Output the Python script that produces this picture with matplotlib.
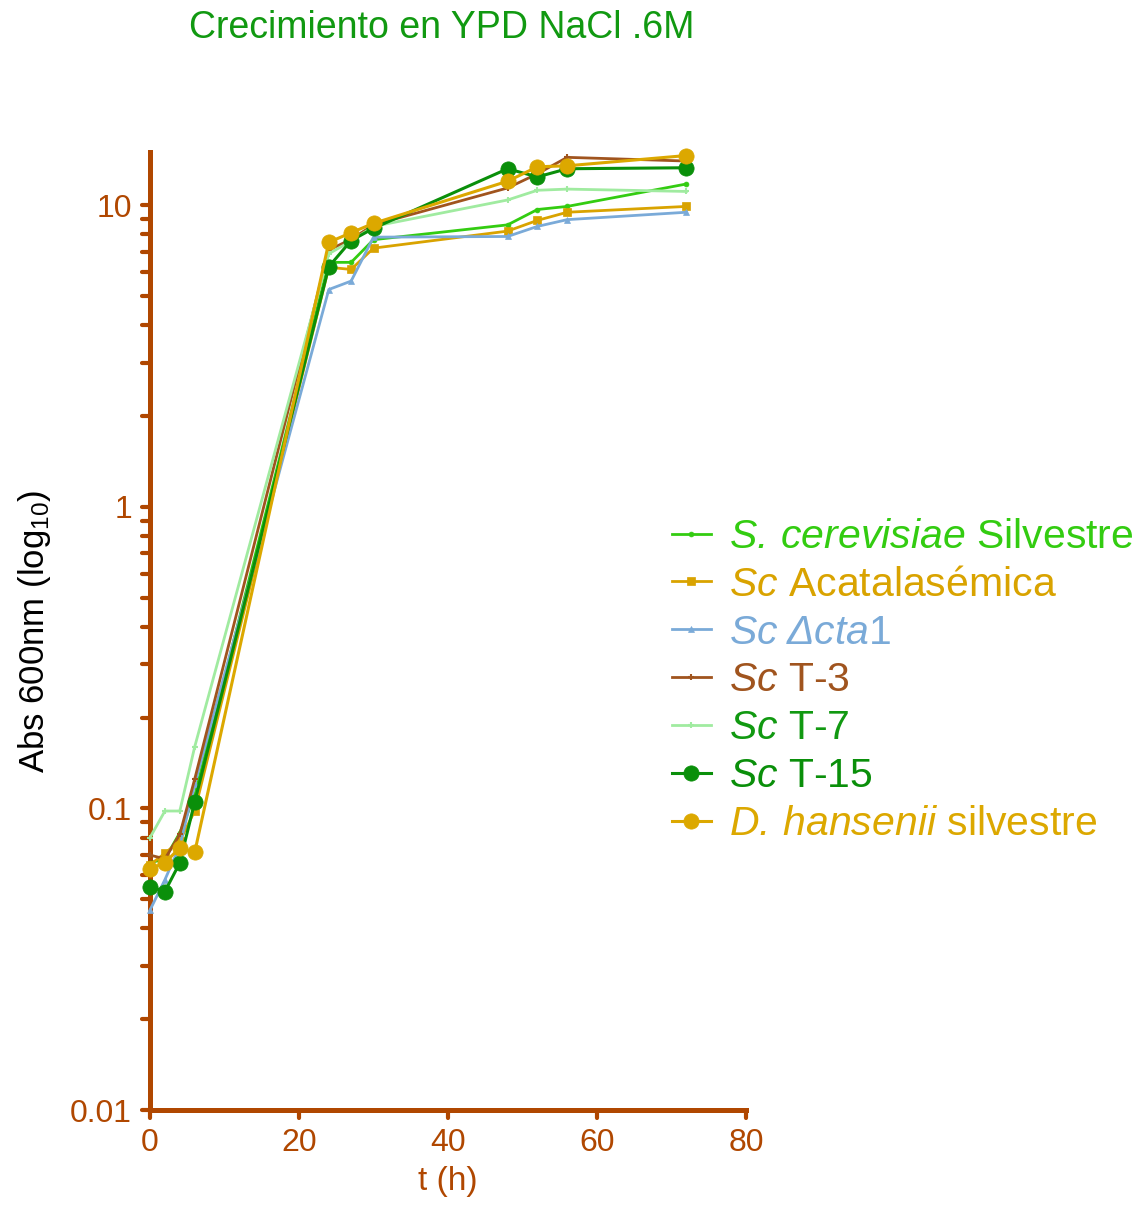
import numpy as np
import matplotlib
matplotlib.use("Agg")
import matplotlib.pyplot as plt
from matplotlib.markers import MarkerStyle, TICKLEFT, TICKDOWN
from matplotlib.ticker import FixedLocator, LogLocator, NullFormatter, FuncFormatter

plt.rcParams['font.family'] = ['Liberation Sans', 'DejaVu Sans']
plt.rcParams['mathtext.fontset'] = 'custom'
plt.rcParams['mathtext.rm'] = 'Liberation Sans'
plt.rcParams['mathtext.it'] = 'Liberation Sans:italic'
plt.rcParams['mathtext.sf'] = 'Liberation Sans:italic'   # italic that also covers Greek capitals

# ---------- data ----------
t_h = [0, 2, 4, 6, 24, 27, 30, 48, 52, 56, 72]

sc_silvestre = [0.066, 0.068, 0.083, 0.11, 6.46, 6.46, 7.68, 8.6, 9.67, 9.9, 11.75]
sc_acatal    = [0.065, 0.071, 0.078, 0.098, 6.22, 6.12, 7.2, 8.2, 8.9, 9.47, 9.9]
sc_dcta1     = [0.046, 0.058, 0.075, 0.12, 5.25, 5.6, 7.83, 7.87, 8.5, 8.95, 9.47]
sc_t3        = [0.07, 0.068, 0.082, 0.125, 7.1, 7.7, 8.6, 11.4, 12.7, 14.4, 14.0]
sc_t7        = [0.08, 0.098, 0.098, 0.16, 6.9, 7.6, 8.5, 10.4, 11.2, 11.3, 11.1]
sc_t15       = [0.055, 0.053, 0.066, 0.105, 6.25, 7.63, 8.38, 13.2, 12.4, 13.2, 13.3]
dh_silvestre = [0.063, 0.066, 0.074, 0.0715, 7.53, 8.1, 8.7, 12.0, 13.4, 13.5, 14.6]

labels = [r"$\mathsf{S.\,cerevisiae}$ Silvestre",
          r"$\mathsf{Sc}$ Acatalasémica",
          r"$\mathsf{Sc}\;\mathsf{\Delta cta}$1",
          r"$\mathsf{Sc}$ T-3",
          r"$\mathsf{Sc}$ T-7",
          r"$\mathsf{Sc}$ T-15",
          r"$\mathsf{D.\,hansenii}$ silvestre"]
series = [sc_silvestre, sc_acatal, sc_dcta1, sc_t3, sc_t7, sc_t15, dh_silvestre]

# style per series: (line colour, text colour, marker, markersize, linewidth)
STYLE = [("#33CC11", "#33CC11", "o", 3.5, 2.0),
         ("#D9A300", "#D9A300", "s", 5.5, 2.0),
         ("#7AAAD8", "#7AAAD8", "^", 4, 2.0),
         ("#A0541E", "#A0541E", "+", 5, 2.0),
         ("#A0EBA0", "#119911", "+", 4, 2.0),
         ("#0A8F0A", "#0A8F0A", "o", 11, 2.2),
         ("#DCA800", "#DCA800", "o", 11, 2.2)]

AX_COL = "#B04700"

fig = plt.figure(figsize=(11.47, 12.10), dpi=100)
ax = fig.add_axes([150/1147, 1 - 1110/1210, 596/1147, (1110 - 152)/1210])

for ys, lab, (col, tcol, mk, ms, lw) in zip(series, labels, STYLE):
    ax.plot(t_h, ys, color=col, marker=mk, ms=ms, lw=lw, mew=1.5 if mk == "+" else 0.5,
            mec=col, mfc=col, label=lab, clip_on=False, zorder=4)

ax.set_yscale("log")
ax.set_xlim(0, 80)
ax.set_ylim(0.01, 15)
ax.xaxis.set_major_locator(FixedLocator([0, 20, 40, 60, 80]))
ax.yaxis.set_major_locator(FixedLocator([0.01, 0.1, 1, 10]))
ax.yaxis.set_minor_locator(LogLocator(base=10, subs=np.arange(2, 10), numticks=20))
ax.yaxis.set_minor_formatter(NullFormatter())
ax.yaxis.set_major_formatter(FuncFormatter(lambda v, p: f"{v:g}"))

for sp in ["top", "right"]:
    ax.spines[sp].set_visible(False)
for sp in ["left", "bottom"]:
    ax.spines[sp].set_color(AX_COL)
    ax.spines[sp].set_linewidth(3.6)
    ax.spines[sp].set_zorder(3)

ax.tick_params(axis="both", which="both", direction="out", color=AX_COL,
               width=3, labelcolor=AX_COL, labelsize=23)
ax.tick_params(axis="both", which="major", length=6, pad=7)
ax.tick_params(axis="y", which="minor", length=6)

ax.set_xlabel("t (h)", fontsize=24, color=AX_COL, labelpad=6)
ax.set_ylabel(r"Abs 600nm (log$_{10}$)", fontsize=25, color="black", labelpad=12)
fig.text(442/1147, 1 - 28/1210, "Crecimiento en YPD NaCl .6M", fontsize=27,
         color="#119911", ha="center", va="center")

leg = fig.legend(loc="upper left", bbox_to_anchor=(672/1147, 1 - 518/1210), frameon=False,
                 fontsize=29.5, handlelength=0.95, handletextpad=0.45, labelspacing=0.24,
                 borderpad=0, borderaxespad=0)
for txt, st in zip(leg.get_texts(), STYLE):
    txt.set_color(st[1])

# round caps on the tick marks
fig.canvas.draw()
for tk in ax.yaxis.get_major_ticks() + ax.yaxis.get_minor_ticks():
    tk.tick1line.set_marker(MarkerStyle(TICKLEFT, capstyle="round"))
for tk in ax.xaxis.get_major_ticks():
    tk.tick1line.set_marker(MarkerStyle(TICKDOWN, capstyle="round"))

fig.savefig("out.png", dpi=100)
